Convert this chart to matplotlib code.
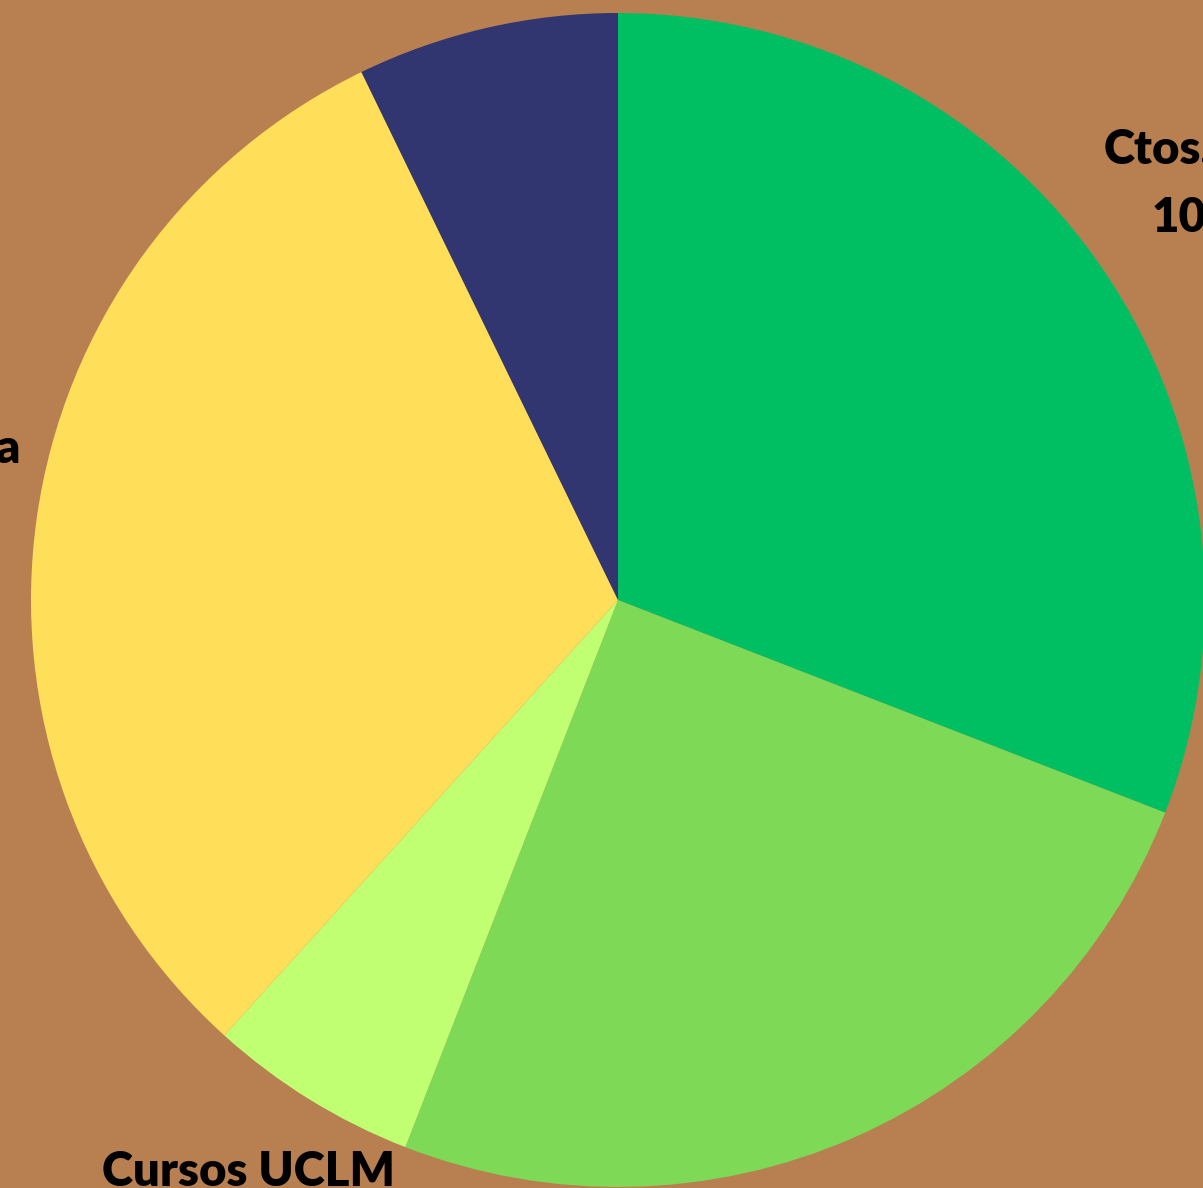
import matplotlib
matplotlib.use("Agg")
import matplotlib.pyplot as plt

# Data (shares, clockwise from 12 o'clock)
categories = ["Ctos.", "Otros", "Cursos UCLM", "a", "Otros 2"]
values = [30.9, 25.0, 5.8, 31.1, 7.2]
colors = ["#00BF63", "#7ED957", "#C1FF72", "#FFDE59", "#313670"]

# Visible (cropped) label fragments
label_texts = ["Ctos.", "10.", "a", "Cursos UCLM"]
label_pos = [(1104, 164), (1152, 232), (-5, 463), (102, 1186)]

W, H = 1203, 1188
cx, cy, R = 618, 600, 587

fig = plt.figure(figsize=(W / 100, H / 100), dpi=100)
fig.patch.set_facecolor("#B88050")
ax = fig.add_axes([0, 0, 1, 1])
ax.set_facecolor("#B88050")
ax.pie(values, colors=colors, startangle=90, counterclock=False,
       radius=1, center=(0, 0), wedgeprops=dict(linewidth=0))
ax.set_xlim(-cx / R, (W - cx) / R)
ax.set_ylim(-(H - cy) / R, cy / R)
ax.set_aspect("auto")
ax.axis("off")

for t, (x, y) in zip(label_texts, label_pos):
    fig.text(x / W, 1 - y / H, t, fontsize=34, fontweight="heavy",
             family=["Lato", "DejaVu Sans"], color="black",
             ha="left", va="baseline")

fig.savefig("out.png", dpi=100, facecolor=fig.get_facecolor())
